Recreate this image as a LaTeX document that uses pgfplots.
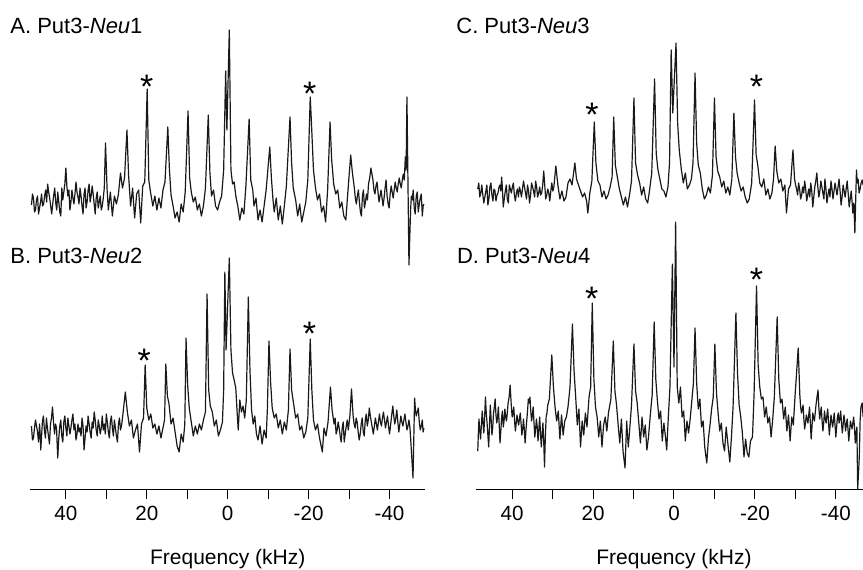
\documentclass[border=0pt]{standalone}
\usepackage{pgfplots}
\pgfplotsset{compat=1.18}
\usepackage{fontspec}
\setmainfont{Liberation Sans}

% 1 px of the reference = 0.5pt; 1 kHz = 4.046 px
\pgfplotsset{
  spec/.style={x=2.023pt, y=0.5pt, x dir=reverse, clip=false, anchor=origin},
  freqaxis/.style={
    axis x line=bottom, axis y line=none,
    axis line style={-, line width=0.5pt, black},
    tick align=outside,
    major tick length=5pt, minor tick length=5pt,
    every tick/.style={black, line width=0.5pt},
    xtick={-40,-20,0,20,40},
    xticklabels={-40,-20,0,20,40},
    minor xtick={-30,-10,10,30},
    xticklabel style={font=\fontsize{10.3}{12}\selectfont},
    xlabel={Frequency (kHz)},
    xlabel style={anchor=base, yshift=-37.5pt, font=\fontsize{10.5}{12}\selectfont},
  },
  trace/.style={black!90, line width=0.6pt, line join=round},
}
\tikzset{
  star/.style={anchor=base, yshift=-9.7pt, inner sep=0pt, font=\fontsize{17}{17}\selectfont},
  plab/.style={anchor=base west, inner sep=0pt, font=\fontsize{11}{13}\selectfont},
}

\begin{document}
\begin{tikzpicture}
\path[use as bounding box] (0,0) rectangle (431.5pt,-284.5pt);

% ---------------- A ----------------
\begin{axis}[spec, hide axis, xmin=-48.8, xmax=48.8, ymin=-70, ymax=175, at={(113.85pt,-100pt)}]
\addplot[trace] coordinates {
(48.5,-5)(48.25,6)(48,2)(47.75,-12)(47.5,-10)(47.25,0)(47,4)(46.75,-14)(46.5,-8)(46.25,-2)(46,6)(45.75,-6)(45.5,-4)(45.25,4)(45,10)(44.75,-2)(44.5,16)(44.25,8)(44,2)(43.75,-6)(43.5,-14)(43.25,-4)(43,5)(42.75,12)(42.5,-3)(42.25,-10)(42,8)(41.75,-2)(41.5,-12)(41.25,-16)(41,12)(40.75,0)(40.5,8)(40.25,16)(40,32)(39.75,14)(39.5,4)(39.25,10)(39,-10)(38.75,-2)(38.5,10)(38.25,2)(38,-4)(37.75,6)(37.5,18)(37.25,8)(37,3)(36.75,-4)(36.5,12)(36.25,4)(36,-6)(35.75,-14)(35.5,6)(35.25,12)(35,-8)(34.75,-2)(34.5,10)(34.25,16)(34,-2)(33.75,4)(33.5,14)(33.25,6)(33,-4)(32.75,-14)(32.5,2)(32.25,8)(32,-8)(31.75,-2)(31.5,4)(31.25,-10)(31,-6)(30.75,2)(30.5,12)
(30.2,57)(29.8,10)(29.5,-10)(29,8)(28.5,-16)(28,4)(27.5,-4)(27,6)(26.5,27)(26,12)(25.5,22)(24.9,70)(24.5,25)(24,-6)(23.5,12)(23,-18)(22.5,6)(22,10)(21.5,-23)(21,14)(20.5,18)(19.9,111)(19.5,20)(19,6)(18.5,-6)(18,4)(17.5,-10)(17,2)(16.5,-8)(16,10)(15.5,18)(14.8,73)(14.4,30)(14,5)(13.5,-6)(13,-18)(12.5,-12)(12,-22)(11.5,-4)(11,-12)(10.5,8)(9.8,89)(9.4,22)(9,8)(8.5,-2)(8,3)(7.5,-10)(7,-4)(6.5,-16)(6,-6)(5.5,12)(4.8,85)(4.4,28)(4,4)(3.5,10)(3,-6)(2.5,-10)(2,-2)(1.5,4)(1,30)(0.5,129)(0.2,70)(-0.4,170)(-0.8,30)(-1.2,16)(-1.6,18)(-2,4)(-2.5,-6)(-3,-20)(-3.5,-8)(-4,-14)(-4.5,14)(-5.3,81)(-5.7,20)(-6.2,10)(-6.5,-6)(-7,2)(-7.5,-20)(-8,-10)(-8.5,-22)(-9,-6)(-9.5,10)(-10.4,53)(-10.8,22)(-11.2,0)(-11.5,-12)(-12,2)(-12.5,-20)(-13,-6)(-13.5,-24)(-14,-6)(-14.5,14)(-15.4,83)(-15.8,37)(-16.2,12)(-16.8,0)(-17.3,-16)(-17.8,-4)(-18.3,-22)(-18.8,-12)(-19.3,-2)(-19.8,20)(-20.4,103)(-20.7,77)(-21.2,30)(-21.7,12)(-22.2,0)(-22.7,6)(-23.2,-12)(-23.7,-6)(-24.2,-22)(-24.7,10)(-25.3,78)(-25.7,40)(-26.2,16)(-26.7,6)(-27.2,10)(-27.7,-8)(-28.2,-2)(-28.7,-16)(-29.2,-20)(-29.7,8)(-30.4,45)
(-30.8,28)(-31.05,20)(-31.3,12)(-31.55,2)(-31.8,-4)(-32.05,4)(-32.3,10)(-32.55,-2)(-32.8,-12)(-33.05,-16)(-33.3,4)(-33.55,10)(-33.8,-8)(-34.05,-2)(-34.3,6)(-34.55,0)(-34.8,16)(-35.1,22)(-35.4,32)(-35.65,26)(-35.9,20)(-36.15,10)(-36.4,6)(-36.65,14)(-36.9,18)(-37.15,8)(-37.4,-2)(-37.65,4)(-37.9,10)(-38.15,2)(-38.4,-6)(-38.65,2)(-38.9,12)(-39.15,20)(-39.4,4)(-39.65,-4)(-39.9,-8)(-40.15,6)(-40.4,14)(-40.65,8)(-40.9,2)(-41.15,10)(-41.4,18)(-41.65,12)(-41.9,8)(-42.15,16)(-42.4,22)(-42.65,16)(-42.9,12)(-43.15,20)(-43.4,26)(-43.65,20)(-43.9,43)(-44.1,30)(-44.3,103)(-44.8,-65)(-45.2,-10)(-45.4,4)(-45.6,0)(-45.85,10)(-46.1,-8)(-46.35,-14)(-46.6,4)(-46.85,8)(-47.1,-12)(-47.35,-4)(-47.6,2)(-47.85,6)(-48.1,-16)(-48.3,-6)(-48.5,-4)
};
\node[star] at (axis cs:20,121) {*};
\node[star] at (axis cs:-20.3,114) {*};
\end{axis}

% ---------------- B ----------------
\begin{axis}[spec, freqaxis, xmin=-48.8, xmax=48.8, ymin=-59, ymax=180, at={(113.85pt,-215pt)},
  xlabel style={at={(axis description cs:0.5,0)}}]
\addplot[trace] coordinates {
(48.5,4)(48.25,-10)(48,-8)(47.75,2)(47.5,10)(47.25,4)(47,-2)(46.75,-12)(46.5,6)(46.35,-4)(46.2,-20)(46,-6)(45.8,8)(45.55,14)(45.3,0)(45.05,-8)(44.8,12)(44.55,2)(44.3,-6)(44.05,-14)(43.8,6)(43.55,12)(43.3,23)(43.05,8)(42.8,-4)(42.55,6)(42.3,2)(42.15,-14)(42,-28)(41.75,-8)(41.5,4)(41.25,10)(41,-6)(40.75,-12)(40.5,8)(40.25,14)(40,2)(39.75,-6)(39.5,12)(39.25,4)(39,-4)(38.75,2)(38.5,10)(38.25,16)(38,0)(37.75,6)(37.5,-10)(37.25,-4)(37,6)(36.75,-2)(36.5,2)(36.25,-6)(36,12)(35.75,4)(35.5,-20)(35.25,-8)(35,4)(34.75,-2)(34.5,14)(34.25,6)(34,-2)(33.75,-8)(33.5,8)(33.25,2)(33,18)(32.75,10)(32.5,0)(32.25,-6)(32,10)(31.75,4)(31.5,-4)(31.25,2)(31,14)(30.75,0)(30.5,6)(30.25,-4)(30,16)(29.75,8)(29.5,-2)(29.25,-8)(29,8)(28.75,14)(28.5,2)(28.25,-6)(28,10)(27.75,2)(27.5,-6)(27.25,-12)(27,6)(26.75,12)(26.5,0)(26.25,4)(26,12)
(25.3,38)(24.8,18)(24.3,4)(23.8,10)(23.3,-8)(22.8,0)(22.3,6)(21.8,-22)(21.3,6)(20.8,12)(20.4,65)(20,22)(19.5,10)(19,16)(18.5,2)(18,6)(17.5,-4)(17,4)(16.5,-8)(16,2)(15.6,10)(15.3,66)(14.9,34)(14.5,26)(14,6)(13.5,12)(13,-2)(12.5,-16)(12,-22)(11.5,-4)(11,-12)(10.6,6)(10.3,92)(9.9,45)(9.5,22)(9,8)(8.5,-6)(8,4)(7.5,-4)(7,6)(6.5,0)(6,10)(5.5,18)(5.1,136)(4.7,40)(4.3,24)(3.8,18)(3.3,4)(2.8,10)(2.3,-6)(1.8,0)(1.3,8)(1,40)(0.7,158)(0.4,80)(-0.4,172)(-0.8,80)(-1.2,57)(-1.6,50)(-2,42)(-2.3,20)(-2.6,0)(-3,30)(-3.4,18)(-3.8,24)(-4.2,12)(-4.6,30)(-5.1,133)(-5.5,60)(-5.9,20)(-6.3,6)(-6.7,14)(-7.1,-4)(-7.5,-10)(-8,4)(-8.5,-14)(-9,0)(-9.5,-8)(-9.8,20)(-10.2,89)(-10.6,48)(-11,22)(-11.5,12)(-12,16)(-12.5,2)(-13,10)(-13.5,-4)(-14,8)(-14.5,0)(-15,20)(-15.4,81)(-15.8,40)(-16.3,26)(-16.8,12)(-17.3,16)(-17.8,0)(-18.3,4)(-18.8,-8)(-19.3,-2)(-19.8,12)(-20.4,91)(-20.8,40)(-21.2,10)(-21.7,0)(-22.2,6)(-22.7,-8)(-23.4,-22)(-23.8,2)(-24.3,-6)(-24.8,8)(-25.4,43)(-25.8,20)
(-26.3,6)(-26.55,12)(-26.8,-4)(-27.05,0)(-27.3,8)(-27.55,2)(-27.8,-6)(-28.05,-12)(-28.3,2)(-28.55,8)(-28.8,-12)(-29.05,-4)(-29.3,4)(-29.55,10)(-29.8,0)(-30.2,14)(-30.6,41)(-31,14)(-31.25,6)(-31.5,2)(-31.75,12)(-32,8)(-32.25,-2)(-32.5,-10)(-32.75,-4)(-33,6)(-33.25,12)(-33.5,-2)(-33.75,-6)(-34,10)(-34.25,16)(-34.5,4)(-34.75,10)(-35,22)(-35.25,14)(-35.5,8)(-35.75,2)(-36,-4)(-36.25,4)(-36.5,12)(-36.75,6)(-37,0)(-37.25,8)(-37.5,16)(-37.75,8)(-38,4)(-38.25,12)(-38.5,18)(-38.75,10)(-39,2)(-39.25,8)(-39.5,14)(-39.75,4)(-40,-4)(-40.4,10)(-40.8,24)(-41.05,14)(-41.3,6)(-41.55,12)(-41.8,20)(-42.05,8)(-42.3,-2)(-42.55,6)(-42.8,14)(-43.05,8)(-43.3,4)(-43.55,10)(-43.8,16)(-44.05,8)(-44.3,0)(-44.55,4)(-44.8,10)(-45.05,2)(-45.3,-14)(-45.8,-48)(-46.2,32)(-46.4,20)(-46.6,14)(-46.85,18)(-47.1,22)(-47.35,8)(-47.6,0)(-47.85,4)(-48.1,10)(-48.3,-2)(-48.5,2)
};
\node[star] at (axis cs:20.6,77) {*};
\node[star] at (axis cs:-20.2,104) {*};
\end{axis}

% ---------------- C ----------------
\begin{axis}[spec, hide axis, xmin=-46.75, xmax=48.9, ymin=-45, ymax=155, at={(337pt,-96.5pt)}]
\addplot[trace] coordinates {
(48.5,4)(48.25,10)(48,-4)(47.75,0)(47.5,8)(47.25,-2)(47,-10)(46.75,-4)(46.5,2)(46.25,8)(46,-12)(45.75,-6)(45.5,6)(45.25,10)(45,-2)(44.75,-8)(44.5,4)(44.25,2)(44,-8)(43.75,-2)(43.5,0)(43.25,6)(43,8)(42.8,2)(42.6,16)(42.4,4)(42.2,-14)(41.95,-6)(41.7,2)(41.45,8)(41.2,-6)(40.95,-10)(40.7,8)(40.45,4)(40.2,0)(39.95,6)(39.7,10)(39.45,-2)(39.2,-8)(38.95,0)(38.7,4)(38.45,-4)(38.2,6)(37.95,2)(37.7,-4)(37.45,4)(37.2,12)(36.95,6)(36.7,0)(36.45,-6)(36.2,8)(35.95,2)(35.7,-10)(35.45,-2)(35.2,10)(34.95,6)(34.7,2)(34.45,-4)(34.2,12)(33.95,6)(33.7,-4)(33.45,0)(33.2,6)(32.95,-2)(32.7,0)(32.45,8)(32.2,22)(31.95,8)(31.7,-6)(31.45,-2)(31.2,4)(30.95,0)(30.7,-8)(30.45,2)(30.2,10)(29.95,2)(29.7,6)
(29.2,27)(28.7,8)(28.2,-6)(27.7,2)(27.2,-8)(26.7,-4)(26.2,10)(25.7,14)(25.2,8)(24.5,30)(24.1,14)(23.6,8)(23.1,2)(22.6,-4)(22.1,0)(21.6,-8)(21.3,-20)(20.8,0)(20.3,12)(19.7,71)(19.3,30)(18.8,12)(18.3,8)(17.8,-4)(17.3,2)(16.8,-6)(16.3,-2)(15.8,6)(15.3,16)(14.9,76)(14.5,28)(14,16)(13.5,4)(13,-4)(12.5,-12)(12,-4)(11.5,-14)(11,-2)(10.5,12)(9.9,95)(9.5,30)(9,18)(8.5,10)(8,-2)(7.5,6)(7,-6)(6.5,-10)(6,4)(5.5,20)(4.8,114)(4.4,40)(4,24)(3.5,14)(3,4)(2.5,2)(2,-4)(1.5,6)(1.1,30)(0.7,143)(0.3,80)(-0.5,150)(-0.9,70)(-1.3,43)(-1.8,24)(-2.3,10)(-2.8,20)(-3.3,4)(-3.8,8)(-4.3,14)(-4.7,30)(-5.2,120)(-5.6,50)(-6,28)(-6.5,20)(-7,4)(-7.5,-6)(-8,-2)(-8.5,6)(-9,0)(-9.5,18)(-10,95)(-10.4,36)(-10.8,22)(-11.3,16)(-11.8,6)(-12.3,12)(-12.8,0)(-13.3,6)(-13.8,-2)(-14.3,14)(-14.8,80)(-15.2,36)(-15.6,20)(-16.1,10)(-16.6,2)(-17.1,6)(-17.6,-4)(-18.1,-10)(-18.6,-6)(-19.2,10)(-19.9,93)(-20.3,38)(-20.7,28)(-21.2,10)(-21.7,6)(-22.2,14)(-22.7,-2)(-23.2,4)(-23.7,-6)(-24.2,0)(-24.6,14)(-25,47)(-25.4,22)(-25.9,10)(-26.4,14)(-26.9,2)(-27.4,8)(-27.8,-20)(-28.3,4)(-28.8,8)(-29.4,43)
(-29.8,14)(-30.05,8)(-30.3,4)(-30.55,-2)(-30.8,10)(-31.05,4)(-31.3,-6)(-31.55,-2)(-31.8,6)(-32.05,0)(-32.3,12)(-32.55,4)(-32.8,-8)(-33.05,-2)(-33.3,4)(-33.55,-4)(-33.8,10)(-34.05,2)(-34.3,-14)(-34.55,-4)(-34.8,6)(-35.05,12)(-35.3,20)(-35.55,6)(-35.8,-4)(-36.05,2)(-36.3,12)(-36.55,6)(-36.8,0)(-37.05,-6)(-37.3,14)(-37.55,4)(-37.8,-10)(-38.05,-2)(-38.3,4)(-38.55,-4)(-38.8,12)(-39.05,4)(-39.3,-6)(-39.55,2)(-39.8,10)(-40.05,4)(-40.3,-2)(-40.55,6)(-40.8,14)(-41.05,2)(-41.3,-12)(-41.55,-4)(-41.8,8)(-42.05,2)(-42.3,-4)(-42.55,4)(-42.8,12)(-43.05,0)(-43.3,-14)(-43.55,-6)(-43.8,2)(-44,-8)(-44.2,-20)(-44.45,-10)(-44.7,-40)(-45.1,23)(-45.3,10)(-45.5,14)(-45.75,0)(-46,4)(-46.25,10)(-46.5,13)(-46.75,8)
};
\node[star] at (axis cs:20.3,86) {*};
\node[star] at (axis cs:-20.4,114) {*};
\end{axis}

% ---------------- D ----------------
\begin{axis}[spec, freqaxis, xmin=-46.75, xmax=48.9, ymin=-62, ymax=210, at={(337pt,-213.5pt)},
  xlabel style={at={(axis description cs:0.5112,0)}}]
\addplot[trace] coordinates {
(48.5,-24)(48.35,-6)(48.2,8)(48,-4)(47.8,-12)(47.6,2)(47.4,16)(47.2,4)(47,-6)(46.8,10)(46.6,30)(46.4,14)(46.2,4)(46,-8)(45.8,-20)(45.6,2)(45.4,22)(45.2,8)(45,-8)(44.8,0)(44.6,14)(44.4,20)(44.2,28)(44,12)(43.8,4)(43.6,10)(43.4,20)(43.2,2)(43,-16)(42.8,-4)(42.6,10)(42.4,16)(42.2,0)(42,6)(41.8,18)(41.6,10)(41.4,6)(41.2,14)(41,24)(40.75,30)(40.5,42)(40.25,24)(40,10)(39.8,14)(39.6,20)(39.4,6)(39.2,-4)(39,4)(38.8,12)(38.6,6)(38.4,2)(38.2,8)(38,14)(37.8,4)(37.6,-8)(37.4,-2)(37.2,8)(37,-2)(36.8,-16)(36.6,-4)(36.4,6)(36.2,16)(36,28)(35.8,24)(35.6,30)(35.4,16)(35.2,6)(35,12)(34.8,20)(34.6,4)(34.4,-10)(34.2,-2)(34,8)(33.8,0)(33.6,-14)(33.4,-2)(33.2,10)(33,-6)(32.8,-20)(32.6,-8)(32.4,4)(32.2,-14)(32,-40)(31.8,-10)(31.6,10)(31.4,14)(31.2,22)
(30.8,28)(30.2,72)(29.8,40)(29.4,20)(29,6)(28.6,16)(28.2,-12)(27.8,12)(27.4,-8)(27,6)(26.6,10)(26.2,20)(25.7,40)(25.1,103)(24.7,56)(24.3,30)(23.9,2)(23.5,18)(23.1,-20)(22.7,6)(22.3,-8)(21.9,14)(21.5,0)(21,30)(20.6,40)(20.2,124)(19.8,48)(19.4,20)(19,10)(18.6,-10)(18.2,6)(17.8,-20)(17.4,2)(17,10)(16.6,-4)(16.2,14)(15.6,28)(15,86)(14.6,36)(14.2,22)(13.8,2)(13.4,-16)(13,8)(12.6,-24)(12.1,-41)(11.7,6)(11.3,-20)(10.9,0)(10.5,22)(9.9,83)(9.5,36)(9.1,24)(8.7,4)(8.3,-16)(7.9,10)(7.5,-10)(7.1,2)(6.7,-23)(6.3,-10)(5.9,10)(5.4,32)(4.9,105)(4.5,48)(4.1,26)(3.7,8)(3.3,16)(2.9,-14)(2.5,4)(2.1,-10)(1.8,-23)(1.4,10)(1,40)(0.4,163)(0,60)(-0.4,205)(-0.8,40)(-1.2,24)(-1.6,40)(-2,10)(-2.4,16)(-2.8,-14)(-3.2,6)(-3.6,-6)(-4,8)(-4.4,26)(-4.8,44)(-5.2,99)(-5.6,44)(-6,18)(-6.4,28)(-6.8,0)(-7.2,6)(-7.6,-20)(-8.1,-36)(-8.5,-12)(-8.9,2)(-9.3,18)(-9.7,30)(-10.1,83)(-10.5,34)(-10.9,14)(-11.3,-4)(-11.7,4)(-12.1,-16)(-12.5,-24)(-12.9,0)(-13.4,-20)(-13.8,-35)(-14.2,-10)(-14.6,20)(-15.3,114)(-15.7,54)(-16.1,22)(-16.5,10)(-16.9,-6)(-17.3,-30)(-17.7,-12)(-18.1,-26)(-18.5,-30)(-18.9,-14)(-19.4,-10)(-19.8,34)(-20.4,141)(-20.8,62)(-21.2,40)(-21.6,28)(-22,30)(-22.4,10)(-22.8,20)(-23.2,4)(-23.6,10)(-24,-10)(-24.4,8)(-24.8,30)(-25.5,110)(-25.9,48)(-26.3,24)(-26.7,28)(-27.1,8)(-27.5,20)(-27.9,-4)(-28.3,12)(-28.7,-14)(-29.1,10)(-29.5,2)(-29.9,30)(-30.7,79)
(-31.1,32)(-31.3,20)(-31.5,14)(-31.7,18)(-31.9,22)(-32.1,8)(-32.3,-2)(-32.5,4)(-32.7,12)(-32.9,8)(-33.1,4)(-33.3,12)(-33.5,20)(-33.7,4)(-33.9,-12)(-34.1,0)(-34.3,14)(-34.5,10)(-34.7,6)(-34.9,14)(-35.1,22)(-35.35,30)(-35.6,37)(-35.8,20)(-36,8)(-36.2,14)(-36.4,20)(-36.6,6)(-36.8,-4)(-37,4)(-37.2,16)(-37.4,8)(-37.6,4)(-37.8,12)(-38,18)(-38.2,4)(-38.4,-8)(-38.6,2)(-38.8,12)(-39,6)(-39.2,0)(-39.4,6)(-39.6,14)(-39.8,2)(-40,-10)(-40.2,0)(-40.4,10)(-40.6,14)(-40.8,4)(-41,8)(-41.2,16)(-41.4,4)(-41.6,-6)(-41.8,2)(-42,12)(-42.2,6)(-42.4,-4)(-42.6,2)(-42.8,8)(-43,-2)(-43.2,-14)(-43.4,-4)(-43.6,6)(-43.8,2)(-44,-2)(-44.2,4)(-44.4,10)(-44.6,0)(-44.8,-16)(-45,-6)(-45.2,0)(-45.4,-62)(-45.8,-30)(-46,6)(-46.2,20)(-46.5,24)(-46.75,10)
};
\node[star] at (axis cs:20.3,136) {*};
\node[star] at (axis cs:-20.4,155) {*};
\end{axis}

\node[plab] at (5pt,-16.5pt) {A. Put3-\textit{Neu}1};
\node[plab] at (228pt,-16.5pt) {C. Put3-\textit{Neu}3};
\node[plab] at (5pt,-131.7pt) {B. Put3-\textit{Neu}2};
\node[plab] at (228.3pt,-131.7pt) {D. Put3-\textit{Neu}4};
\end{tikzpicture}
\end{document}
